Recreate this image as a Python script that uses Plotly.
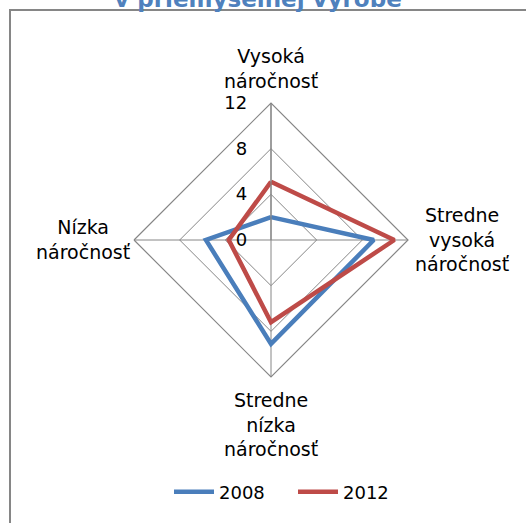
import plotly.graph_objects as go

categories = ["Vysoká náročnosť", "Stredne vysoká náročnosť",
              "Stredne nízka náročnosť", "Nízka náročnosť"]
category_labels = ["Vysoká<br>náročnosť", "Stredne<br>vysoká<br>náročnosť",
                   "Stredne<br>nízka<br>náročnosť", "Nízka<br>náročnosť"]
values_2008 = [2.0, 9.0, 9.1, 5.7]
values_2012 = [5.1, 10.8, 7.2, 3.7]
series_names = ["2008", "2012"]
radial_ticks = [0, 4, 8, 12]
colors = ["#4A7EBB", "#BE4B48"]
title_text = "v priemyselnej výrobe"

W, H = 526, 523
cx, cy, R = 271, 240, 137

fig = go.Figure()
for name, vals, col in zip(series_names, [values_2008, values_2012], colors):
    fig.add_trace(go.Scatterpolar(
        r=vals + vals[:1], theta=categories + categories[:1],
        mode="lines", name=name,
        line=dict(color=col, width=4.5),
    ))

font = "DejaVu Sans"
label_pos = [(271, 68.5), (462, 240), (271, 424), (83, 240)]
annotations = [
    dict(text=t, x=x / W, y=1 - y / H, xref="paper", yref="paper",
         xanchor="center", yanchor="middle", align="center", showarrow=False,
         font=dict(family=font, size=19, color="#000000"))
    for t, (x, y) in zip(category_labels, label_pos)
]

fig.update_layout(
    width=W, height=H,
    margin=dict(l=0, r=0, t=0, b=0),
    paper_bgcolor="white",
    font=dict(family=font, size=18, color="#000000"),
    showlegend=True,
    legend=dict(orientation="h", x=293 / W, xanchor="center",
                y=1 - 492 / H, yanchor="middle",
                font=dict(family=font, size=18), itemwidth=40,
                entrywidth=69),
    title=dict(text="<b>" + title_text + "</b>", x=258 / W, xanchor="center",
               y=1 - 7 / H, yanchor="bottom", yref="container",
               font=dict(family=font, size=23, color="#4F81BD")),
    annotations=annotations,
    polar=dict(
        domain=dict(x=[(cx - R) / W, (cx + R) / W],
                    y=[1 - (cy + R) / H, 1 - (cy - R) / H]),
        bgcolor="white",
        gridshape="linear",
        angularaxis=dict(rotation=90, direction="clockwise",
                         showline=True, linecolor="#868686", linewidth=1.2,
                         gridcolor="#868686", gridwidth=1.2, ticks="",
                         showticklabels=False),
        radialaxis=dict(range=[0, 12], tickvals=radial_ticks, angle=90,
                        tickangle=90, side="counterclockwise",
                        ticks="outside", ticklen=17,
                        tickcolor="rgba(0,0,0,0)",
                        showline=True, linecolor="#868686", linewidth=1.2,
                        gridcolor="#868686", gridwidth=1.2,
                        tickfont=dict(family=font, size=18)),
    ),
    shapes=[dict(type="rect", xref="paper", yref="paper",
                 x0=10 / W, x1=1.05, y0=-0.05, y1=1 - 10 / H,
                 line=dict(color="#868686", width=2), fillcolor="rgba(0,0,0,0)",
                 layer="below")],
)

fig.write_html("out.html", config={"displayModeBar": False},
               post_script="document.body.style.margin='0';")
